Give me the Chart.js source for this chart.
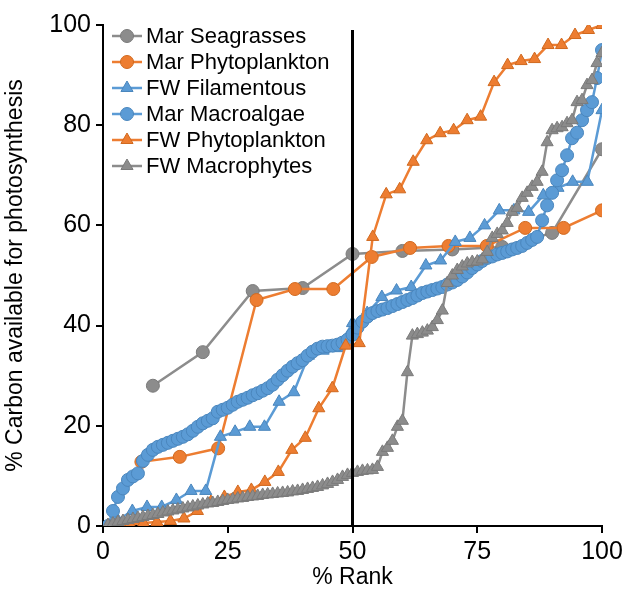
<!DOCTYPE html>
<html>
<head>
    <title>Carbon available for photosynthesis</title>
    <script src="https://cdn.jsdelivr.net/npm/chart.js"></script>
    <style>
        body { margin: 0; background: #fff; overflow: hidden; }
    </style>
</head>
<body>
<canvas id="rankChart" width="627" height="597"></canvas>
<script>
    // values, ordered by % rank (rank = position / count)
    const seriesNames = ['Mar Seagrasses', 'Mar Phytoplankton', 'FW Filamentous',
                         'Mar Macroalgae', 'FW Phytoplankton', 'FW Macrophytes'];

    const marSeagrasses = [28, 34.7, 46.9, 47.5, 54.3, 54.9, 55.2, 55.7, 58.5, 75.2];

    const marPhytoplankton = [12.8, 13.8, 15.5, 45.1, 47.3, 47.3, 53.7, 55.5, 55.9, 55.9,
                              59.5, 59.5, 63];

    const fwFilamentous = [1.2, 3, 3.8, 3.8, 5.2, 7, 7, 17.8, 18.8, 19.8,
                           19.8, 24.8, 26.7, 34, 35, 35.5, 40.5, 42.5, 45.7, 47,
                           47.7, 52, 53, 56.7, 57.5, 60, 63, 63, 62.7, 66,
                           67.5, 68.7, 68.7, 83];

    const marMacroalgae = [0, 3, 5.8, 7.5, 9.2, 9.9, 10.5, 13, 14.2, 15.2,
                           15.8, 16.2, 16.6, 17, 17.4, 17.8, 18.3, 19, 19.8, 20.5,
                           21, 21.5, 22.8, 23.2, 23.6, 24.2, 24.8, 25.2, 25.6, 26.1,
                           26.5, 27, 27.5, 28.2, 29.2, 30.1, 31, 31.8, 32.5, 33.1,
                           34, 34.8, 35.4, 35.8, 35.9, 36, 36.2, 36.6, 37.2, 38.2,
                           39.6, 40.8, 41.8, 42.5, 42.9, 43.2, 43.5, 43.9, 44.3, 44.7,
                           45.1, 45.5, 46, 46.5, 46.8, 47.1, 47.4, 47.7, 48.2, 48.6,
                           49.1, 49.8, 50.6, 51.5, 52.2, 52.9, 53.5, 53.8, 54.2, 54.5,
                           54.8, 55.2, 55.5, 55.9, 56.5, 57.1, 57.7, 61, 64, 66.5,
                           69, 71, 74, 77.4, 78.5, 81, 83, 84.6, 89.4, 95];

    const fwPhytoplankton = [0.2, 0.3, 0.6, 0.8, 1, 1.5, 3, 4.8, 5.8, 6.8,
                             7.2, 8.8, 10.8, 15.2, 17.6, 23.5, 27.5, 36, 36.5, 57.7,
                             66.2, 67.2, 72.7, 77, 78.4, 79, 81, 81.7, 88.6, 92,
                             92.8, 93.2, 96, 96, 98, 99, 100];

    const fwMacrophytes = [0.2, 0.5, 0.8, 1, 1.2, 1.4, 1.6, 1.8, 2, 2.2,
                           2.4, 2.7, 2.9, 3.1, 3.3, 3.5, 3.7, 3.9, 4.1, 4.3,
                           4.5, 4.6, 4.8, 5, 5.2, 5.3, 5.5, 5.6, 5.8, 5.9,
                           6, 6.2, 6.3, 6.4, 6.5, 6.6, 6.7, 6.9, 7, 7.2,
                           7.4, 7.6, 7.8, 8.1, 8.4, 8.8, 9.2, 9.8, 10.2, 10.6,
                           10.8, 11, 11.1, 11.2, 11.8, 14.8, 15.6, 17, 19.8, 21,
                           30.7, 38, 38.3, 38.6, 39, 39.7, 41.1, 43, 48.5, 50,
                           51.1, 51.8, 52.4, 52.7, 52.8, 53.2, 54.7, 57.5, 58.3, 59,
                           60.5, 62.7, 63.5, 65.5, 66.5, 67.7, 68.7, 70.7, 76.6, 79,
                           79.4, 79.6, 80.4, 81, 84.6, 85, 88, 89, 92.4, 94.4];

    const xTicks = [0, 25, 50, 75, 100];
    const yTicks = [0, 20, 40, 60, 80, 100];
    const cutoffRank = 50;

    const GRAY = '#8c8c8c', ORANGE = '#ed7d31', BLUE = '#5b9bd5';
    const FONT = '"Liberation Sans", Arial, sans-serif';

    function ranked(values) {
        return values.map((v, i) => ({ x: (i + 1) * 100 / values.length, y: v }));
    }

    function series(label, values, color, edge, style, order) {
        return {
            label: label,
            data: ranked(values),
            borderColor: color,
            backgroundColor: color,
            borderWidth: 2.5,
            pointStyle: style,
            pointRadius: style === 'triangle' ? 7 : 6.5,
            pointBackgroundColor: color,
            pointBorderColor: edge,
            pointBorderWidth: 1,
            tension: 0,
            order: order
        };
    }

    const datasets = [
        series(seriesNames[0], marSeagrasses, GRAY, '#7a7a7a', 'circle', 6),
        series(seriesNames[1], marPhytoplankton, ORANGE, '#d0691f', 'circle', 5),
        series(seriesNames[2], fwFilamentous, BLUE, '#4a86bd', 'triangle', 4),
        series(seriesNames[3], marMacroalgae, BLUE, '#4a86bd', 'circle', 3),
        series(seriesNames[4], fwPhytoplankton, ORANGE, '#d0691f', 'triangle', 2),
        series(seriesNames[5], fwMacrophytes, GRAY, '#7a7a7a', 'triangle', 1),
        {
            label: 'cutoff',
            data: [{ x: cutoffRank, y: 0 }, { x: cutoffRank, y: 99 }],
            borderColor: '#000',
            borderWidth: 3,
            pointRadius: 0,
            order: 0
        }
    ];

    // legend drawn as line + marker + text, like the spreadsheet legend
    const lineLegend = {
        id: 'lineLegend',
        afterDraw(chart) {
            const ctx = chart.ctx;
            const area = chart.chartArea;
            ctx.save();
            ctx.font = '22px ' + FONT;
            ctx.textBaseline = 'middle';
            for (let i = 0; i < 6; i++) {
                const ds = chart.data.datasets[i];
                const y = area.top + 11 + i * 26;
                const x0 = area.left + 9;
                ctx.strokeStyle = ds.borderColor;
                ctx.lineWidth = 2.5;
                ctx.beginPath();
                ctx.moveTo(x0, y);
                ctx.lineTo(x0 + 30, y);
                ctx.stroke();
                ctx.fillStyle = ds.pointBackgroundColor;
                ctx.strokeStyle = ds.pointBorderColor;
                ctx.lineWidth = 1;
                Chart.helpers.drawPoint(ctx, {
                    pointStyle: ds.pointStyle,
                    radius: ds.pointRadius,
                    rotation: 0,
                    borderWidth: 1
                }, x0 + 15, y);
                ctx.fillStyle = '#000';
                ctx.fillText(ds.label, x0 + 34, y + 1);
            }
            ctx.restore();
        }
    };

    const tickFont = { family: FONT, size: 25 };
    const titleFont = { family: FONT, size: 23 };

    new Chart(document.getElementById('rankChart'), {
        type: 'line',
        data: { datasets: datasets },
        plugins: [lineLegend],
        options: {
            responsive: false,
            animation: false,
            devicePixelRatio: 1,
            layout: { padding: { left: 0, right: 25, top: 25, bottom: 0 } },
            plugins: { legend: { display: false }, tooltip: { enabled: false } },
            scales: {
                x: {
                    type: 'linear',
                    min: 0,
                    max: 100,
                    afterBuildTicks: s => { s.ticks = xTicks.map(v => ({ value: v })); },
                    afterFit: s => { s.height = 71; },
                    ticks: { color: '#000', font: tickFont, padding: 4, maxRotation: 0 },
                    grid: { drawOnChartArea: false, color: '#000', lineWidth: 2, tickLength: 7 },
                    border: { color: '#000', width: 2 },
                    title: { display: true, text: '% Rank', color: '#000', font: titleFont,
                             padding: { top: 0, bottom: 6 } }
                },
                y: {
                    min: 0,
                    max: 100,
                    afterBuildTicks: s => { s.ticks = yTicks.map(v => ({ value: v })); },
                    afterFit: s => { s.width = 103; },
                    ticks: { color: '#000', font: tickFont, padding: 5 },
                    grid: { drawOnChartArea: false, color: '#000', lineWidth: 2, tickLength: 7 },
                    border: { color: '#000', width: 2 },
                    title: { display: true, text: '% Carbon available for photosynthesis',
                             color: '#000', font: titleFont, padding: { top: 2, bottom: 0 } }
                }
            }
        }
    });
</script>
</body>
</html>
